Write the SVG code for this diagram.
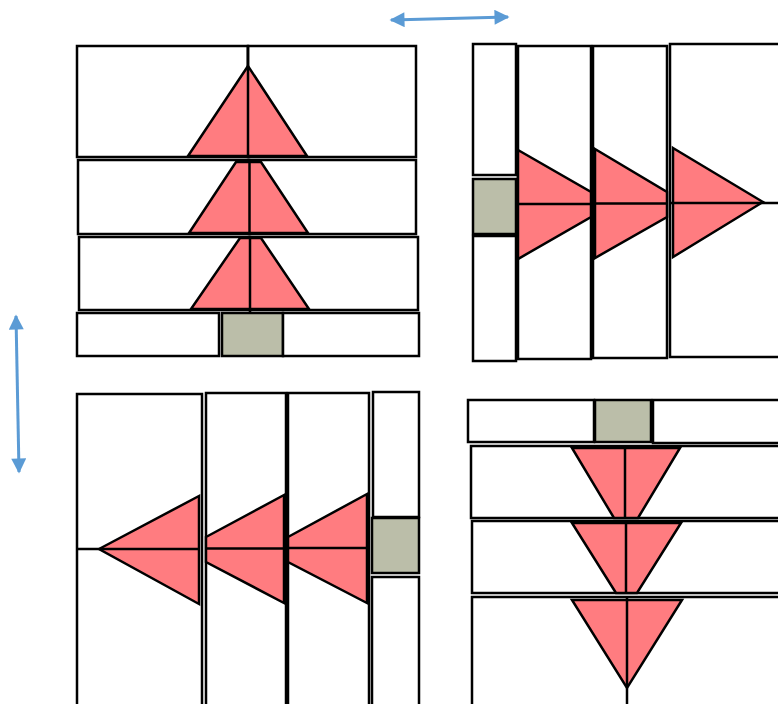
<svg xmlns="http://www.w3.org/2000/svg" width="778" height="704" viewBox="0 0 778 704">
<style>
.b{fill:#ffffff;stroke:#000000;stroke-width:2.5}
.g{fill:#BBBEA9;stroke:#000000;stroke-width:2.5}
.t{fill:#FF7C80;stroke:#000000;stroke-width:2.5;stroke-linejoin:miter}
.d{stroke:#000000;stroke-width:2.5;fill:none}
.a{stroke:#5B9BD5;stroke-width:3;fill:none}
</style>
<defs>
<marker id="ah" viewBox="0 0 10 10" refX="9" refY="5" markerWidth="16" markerHeight="15" markerUnits="userSpaceOnUse" orient="auto-start-reverse">
<path d="M0,0 L10,5 L0,10 z" fill="#5B9BD5"/>
</marker>
</defs>
<rect width="778" height="704" fill="#ffffff"/>

<g id="tree-up">
<rect class="b" x="77" y="46" width="171" height="111"/>
<rect class="b" x="248" y="46" width="168" height="111"/>
<polygon class="t" points="248,66 188,156 307,156"/>
<line class="d" x1="248" y1="46" x2="248" y2="157"/>
<rect class="b" x="78" y="160" width="171" height="74"/>
<rect class="b" x="249" y="160" width="167" height="74"/>
<polygon class="t" points="236,162 261,162 308,233 189,233"/>
<line class="d" x1="249.5" y1="160" x2="249.5" y2="234"/>
<rect class="b" x="79" y="237" width="171" height="73"/>
<rect class="b" x="250" y="237" width="168" height="73"/>
<polygon class="t" points="240,238 261,238 309,309 191,309"/>
<line class="d" x1="250" y1="237" x2="250" y2="313"/>
<rect class="b" x="77" y="313" width="142" height="43"/>
<rect class="g" x="222" y="313" width="61" height="43"/>
<rect class="b" x="283" y="313" width="136" height="43"/>
</g>

<g id="tree-right">
<rect class="b" x="473" y="44" width="43" height="131"/>
<rect class="g" x="473" y="179" width="43" height="55"/>
<rect class="b" x="473" y="236" width="43" height="125"/>
<rect class="b" x="518" y="46" width="73" height="313"/>
<polygon class="t" points="518,150 591,192 591,217 518,259"/>
<line class="d" x1="518" y1="204" x2="591" y2="204"/>
<rect class="b" x="593" y="46" width="74" height="312"/>
<polygon class="t" points="595,149 667,192 667,217 595,258"/>
<line class="d" x1="595" y1="203.5" x2="667" y2="203.5"/>
<rect class="b" x="670" y="44" width="120" height="313"/>
<polygon class="t" points="673,148 763,202 673,257"/>
<line class="d" x1="670" y1="203" x2="778" y2="203"/>
</g>

<g id="tree-left">
<rect class="b" x="77" y="394" width="125" height="330"/>
<polygon class="t" points="99,549 199,496 199,604"/>
<line class="d" x1="77" y1="549" x2="199" y2="549"/>
<rect class="b" x="206" y="393" width="80" height="330"/>
<polygon class="t" points="206,537 284,495 284,603 206,562"/>
<line class="d" x1="206" y1="548.5" x2="284" y2="548.5"/>
<rect class="b" x="288" y="393" width="81" height="330"/>
<polygon class="t" points="288,537 367,494 367,603 288,562"/>
<line class="d" x1="288" y1="548" x2="367" y2="548"/>
<rect class="b" x="373" y="392" width="46" height="125"/>
<rect class="g" x="372" y="518" width="47" height="55"/>
<rect class="b" x="372" y="577" width="47" height="140"/>
</g>

<g id="tree-down">
<rect class="b" x="468" y="400" width="126" height="42"/>
<rect class="g" x="595" y="400" width="56" height="42"/>
<rect class="b" x="653" y="400" width="137" height="43"/>
<rect class="b" x="471" y="446" width="319" height="72"/>
<polygon class="t" points="572,448 680,448 638,518 614,518"/>
<line class="d" x1="625" y1="446" x2="625" y2="518"/>
<rect class="b" x="472" y="521" width="318" height="72"/>
<polygon class="t" points="572,523 681,523 637,593 616,593"/>
<line class="d" x1="626" y1="521" x2="626" y2="593"/>
<rect class="b" x="472" y="597" width="318" height="125"/>
<polygon class="t" points="572,600 682,600 627,688"/>
<line class="d" x1="627" y1="597" x2="627" y2="704"/>
</g>

<g id="connectors">
<line class="a" x1="391" y1="20" x2="508" y2="17" marker-start="url(#ah)" marker-end="url(#ah)"/>
<line class="a" x1="16" y1="316" x2="19" y2="472" marker-start="url(#ah)" marker-end="url(#ah)"/>
</g>
</svg>
